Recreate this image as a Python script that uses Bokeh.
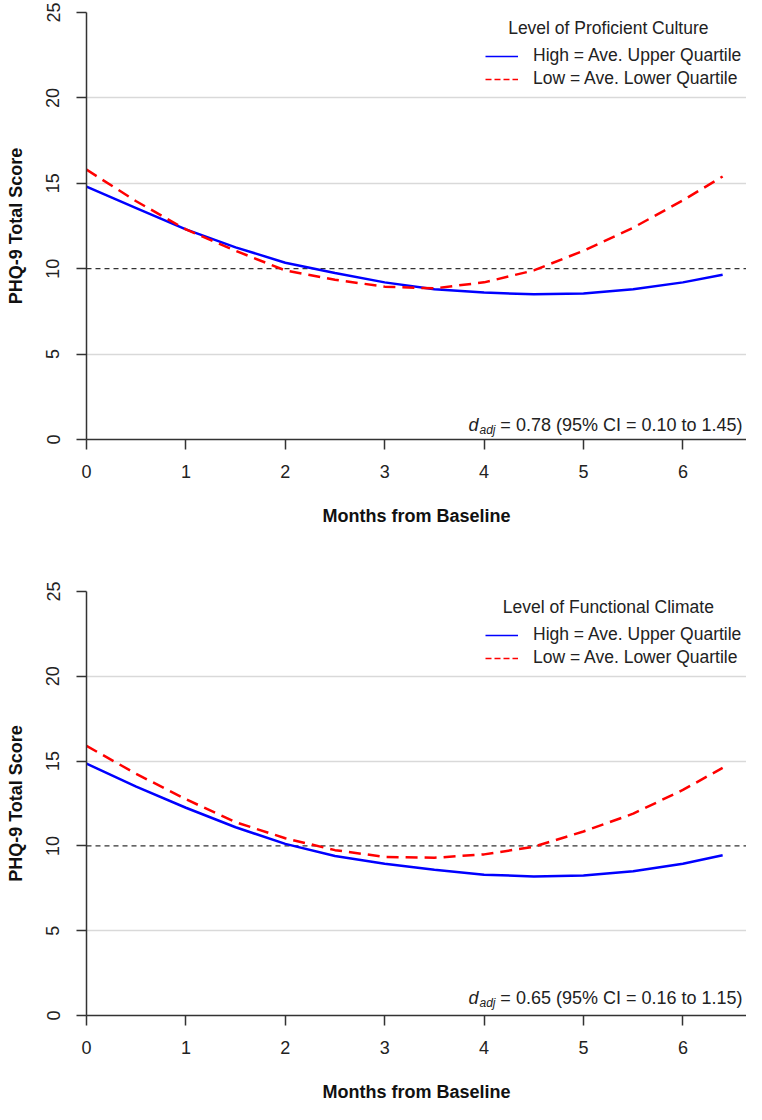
import math
from bokeh.plotting import figure
from bokeh.layouts import column
from bokeh.models import Range1d, FixedTicker, Span, Label, Legend, LegendItem
from bokeh.embed import file_html
from bokeh.resources import INLINE

# ---- data ----
months = [0, 0.5, 1, 1.5, 2, 2.5, 3, 3.5, 4, 4.5, 5, 5.5, 6, 6.4]

culture_high = [14.8, 13.55, 12.3, 11.25, 10.35, 9.75, 9.2, 8.8, 8.6, 8.5, 8.55, 8.8, 9.2, 9.65]
culture_low = [15.8, 13.95, 12.3, 11.05, 9.9, 9.35, 8.95, 8.85, 9.2, 9.9, 11.05, 12.4, 14.0, 15.4]

climate_high = [14.85, 13.5, 12.25, 11.1, 10.12, 9.4, 8.95, 8.6, 8.3, 8.2, 8.25, 8.5, 8.95, 9.45]
climate_low = [15.9, 14.25, 12.75, 11.4, 10.45, 9.75, 9.35, 9.3, 9.5, 9.95, 10.85, 11.9, 13.3, 14.6]

x_ticks = [0, 1, 2, 3, 4, 5, 6]
y_ticks = [0, 5, 10, 15, 20, 25]
grid_levels = [5, 15, 20, 25]
reference_level = 10

legend_titles = ["Level of Proficient Culture", "Level of Functional Climate"]
series_labels = ["High = Ave. Upper Quartile", "Low = Ave. Lower Quartile"]
effect_texts = ["= 0.78 (95% CI = 0.10 to 1.45)", "= 0.65 (95% CI = 0.16 to 1.15)"]
x_title = "Months from Baseline"
y_title = "PHQ-9 Total Score"

FONT = "Liberation Sans"
BLUE = "#0000ff"
RED = "#ff0000"
AXIS = "#333333"


def make_panel(high, low, legend_title, effect_text, height, border_top,
               border_bottom, legend_y, title_y, effect_y):
    p = figure(width=746, height=height, output_backend="svg",
               toolbar_location=None,
               x_range=Range1d(0, 6.64), y_range=Range1d(0, 25),
               min_border_left=86, min_border_right=0,
               min_border_top=border_top, min_border_bottom=border_bottom)
    p.outline_line_color = None
    p.background_fill_color = "white"
    p.border_fill_color = "white"

    p.xaxis.ticker = FixedTicker(ticks=x_ticks)
    p.yaxis.ticker = FixedTicker(ticks=y_ticks)
    for ax in (p.xaxis[0], p.yaxis[0]):
        ax.axis_line_color = AXIS
        ax.axis_line_width = 1.5
        ax.major_tick_line_color = AXIS
        ax.major_tick_line_width = 1.5
        ax.major_tick_in = 0
        ax.major_tick_out = 10
        ax.minor_tick_line_color = None
        ax.major_label_text_font = FONT
        ax.major_label_text_font_size = "18px"
        ax.major_label_text_color = "#222222"
        ax.axis_label_text_font = FONT
        ax.axis_label_text_font_style = "bold"
        ax.axis_label_text_font_size = "18px"
        ax.axis_label_text_color = "#111111"
    p.xaxis.axis_label = x_title
    p.yaxis.axis_label = y_title
    p.xaxis.major_label_standoff = 15
    p.xaxis.axis_label_standoff = 25
    p.yaxis.major_label_standoff = 17
    p.yaxis.axis_label_standoff = 18
    p.yaxis.major_label_orientation = "vertical"

    p.xgrid.visible = False
    p.ygrid.ticker = FixedTicker(ticks=grid_levels)
    p.ygrid.grid_line_color = "#d9d9d9"
    p.ygrid.grid_line_width = 1.5

    p.add_layout(Span(location=reference_level, dimension="width",
                      line_color=AXIS, line_width=1.3, line_dash="5 4",
                      level="underlay"))

    p.line(months, high, line_color=BLUE, line_width=2.5)
    p.line(months, low, line_color=RED, line_width=2.5, line_dash="12 7")

    # thin samples for the legend (as in the reference)
    leg_hi = p.line([math.nan], [math.nan], line_color=BLUE, line_width=1.3)
    leg_lo = p.line([math.nan], [math.nan], line_color=RED, line_width=1.3,
                    line_dash="6 3")
    legend = Legend(items=[LegendItem(label=series_labels[0], renderers=[leg_hi]),
                           LegendItem(label=series_labels[1], renderers=[leg_lo])],
                    location=(394, legend_y),
                    glyph_width=33, glyph_height=20, label_height=20,
                    label_standoff=15, spacing=2, padding=5, margin=0,
                    border_line_alpha=0, background_fill_alpha=0,
                    label_text_font=FONT, label_text_font_size="17.5px",
                    label_text_color="#222222")
    p.add_layout(legend)

    p.add_layout(Label(x=5.25, y=title_y, text=legend_title,
                       text_align="center", text_baseline="middle",
                       text_font=FONT, text_font_size="17.5px",
                       text_color="#222222"))

    p.add_layout(Label(x=6.60, y=effect_y, text=effect_text,
                       text_align="right", text_baseline="alphabetic",
                       text_font=FONT, text_font_size="18px",
                       text_color="#222222"))
    p.add_layout(Label(x=6.60, y=effect_y, x_offset=-247, y_offset=-5,
                       text="adj", text_align="right",
                       text_baseline="alphabetic", text_font=FONT,
                       text_font_style="italic", text_font_size="12px",
                       text_color="#222222"))
    p.add_layout(Label(x=6.60, y=effect_y, x_offset=-264, text="d",
                       text_align="right", text_baseline="alphabetic",
                       text_font=FONT, text_font_style="italic",
                       text_font_size="18px", text_color="#222222"))
    return p


p1 = make_panel(culture_high, culture_low, legend_titles[0], effect_texts[0],
                height=579, border_top=12, border_bottom=140,
                legend_y=345, title_y=24.12, effect_y=0.85)
p2 = make_panel(climate_high, climate_low, legend_titles[1], effect_texts[1],
                height=525, border_top=12, border_bottom=88,
                legend_y=342, title_y=24.06, effect_y=1.05)

layout = column(p1, p2)
open("out.html", "w").write(file_html(layout, INLINE))
